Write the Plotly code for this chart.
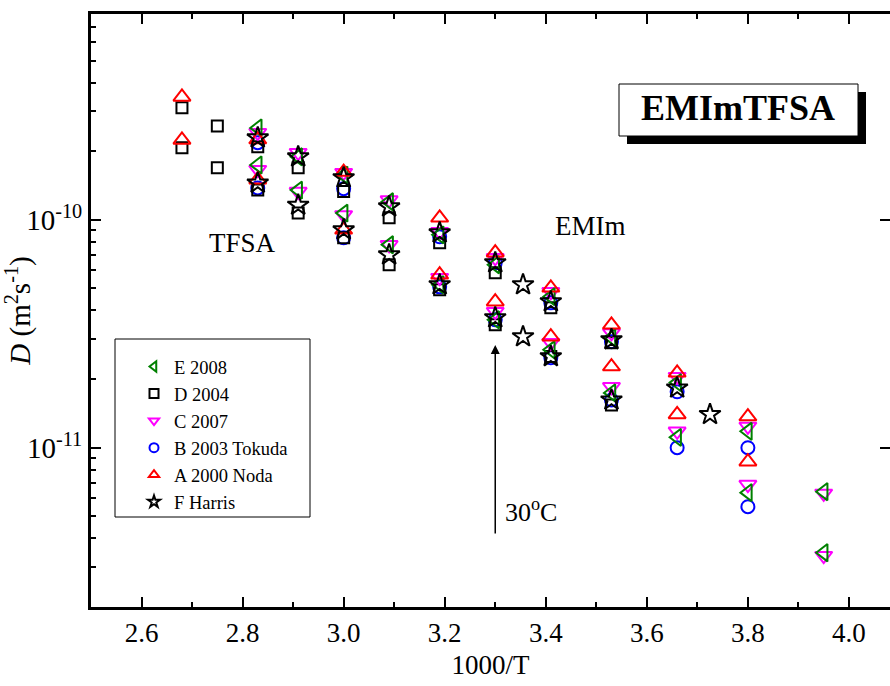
import plotly.graph_objects as go

# ---------------- data ----------------
# each series: 1000/T values, cation (EMIm) D and anion (TFSA) D in m^2/s
X_E = [2.83, 2.91, 3.00, 3.09, 3.19, 3.30, 3.41, 3.53, 3.66, 3.80, 3.95]
E_cat = [2.53e-10, 1.89e-10, 1.57e-10, 1.20e-10, 8.59e-11, 6.35e-11, 4.60e-11, 3.04e-11, 1.93e-11, 1.18e-11, 6.41e-12]
E_an = [1.74e-10, 1.35e-10, 1.07e-10, 7.77e-11, 5.19e-11, 3.64e-11, 2.69e-11, 1.74e-11, 1.11e-11, 6.35e-12, 3.46e-12]

X_D = [2.68, 2.75, 2.83, 2.91, 3.00, 3.09, 3.19, 3.30, 3.41, 3.53]
D_cat = [3.10e-10, 2.58e-10, 2.09e-10, 1.69e-10, 1.33e-10, 1.02e-10, 7.93e-11, 5.86e-11, 4.11e-11, 2.89e-11]
D_an = [2.07e-10, 1.69e-10, 1.35e-10, 1.07e-10, 8.34e-11, 6.35e-11, 4.93e-11, 3.46e-11, 2.51e-11, 1.54e-11]

X_C = [2.83, 2.91, 3.00, 3.09, 3.19, 3.30, 3.41, 3.53, 3.66, 3.80, 3.95]
C_cat = [2.41e-10, 1.97e-10, 1.61e-10, 1.22e-10, 8.86e-11, 6.81e-11, 4.83e-11, 3.19e-11, 2.05e-11, 1.24e-11, 6.30e-12]
C_an = [1.66e-10, 1.33e-10, 1.05e-10, 7.77e-11, 5.57e-11, 3.95e-11, 2.89e-11, 1.85e-11, 1.18e-11, 6.89e-12, 3.36e-12]

X_B = [2.83, 3.00, 3.19, 3.30, 3.41, 3.53, 3.66, 3.80]
B_cat = [2.18e-10, 1.37e-10, 8.42e-11, 6.48e-11, 4.32e-11, 2.92e-11, 1.76e-11, 1.00e-11]
B_an = [1.38e-10, 8.34e-11, 5.08e-11, 3.64e-11, 2.48e-11, 1.62e-11, 1.00e-11, 5.51e-12]

X_A = [2.68, 2.83, 3.00, 3.19, 3.30, 3.41, 3.53, 3.66, 3.80]
A_cat = [3.46e-10, 2.25e-10, 1.62e-10, 1.02e-10, 7.17e-11, 5.03e-11, 3.46e-11, 2.13e-11, 1.37e-11]
A_an = [2.24e-10, 1.50e-10, 9.04e-11, 5.74e-11, 4.37e-11, 3.07e-11, 2.27e-11, 1.40e-11, 8.68e-12]

X_F = [2.83, 2.91, 3.00, 3.09, 3.19, 3.30, 3.355, 3.41, 3.53, 3.66, 3.725]
F_cat = [2.29e-10, 1.89e-10, 1.53e-10, 1.14e-10, 8.77e-11, 6.48e-11, 5.19e-11, 4.37e-11, 2.98e-11, 1.83e-11, 1.40e-11]
F_an = [1.45e-10, 1.16e-10, 9.04e-11, 7.02e-11, 5.19e-11, 3.72e-11, 3.07e-11, 2.51e-11, 1.62e-11, None, None]

X_TICKS = [2.6, 2.8, 3.0, 3.2, 3.4, 3.6, 3.8, 4.0]
X_TICK_LABELS = ["2.6", "2.8", "3.0", "3.2", "3.4", "3.6", "3.8", "4.0"]
X_MINOR = [2.5, 2.7, 2.9, 3.1, 3.3, 3.5, 3.7, 3.9]
Y_TICKS = [1e-11, 1e-10]
Y_TICK_LABELS = ["10<sup>-11</sup>", "10<sup>-10</sup>"]
Y_MINOR = [2e-12, 3e-12, 4e-12, 5e-12, 6e-12, 7e-12, 8e-12, 9e-12,
           2e-11, 3e-11, 4e-11, 5e-11, 6e-11, 7e-11, 8e-11, 9e-11,
           2e-10, 3e-10, 4e-10, 5e-10, 6e-10, 7e-10]
ARROW_X = 3.30

FONT = "Liberation Serif, Times New Roman, serif"

series = [
    # name, x, cat, an, symbol, color, size, legend rank
    ("B 2003 Tokuda", X_B, B_cat, B_an, "circle-open", "#0000FF", 13, 4),
    ("D 2004", X_D, D_cat, D_an, "square-open", "#000000", 11, 2),
    ("C 2007", X_C, C_cat, C_an, "triangle-down-open", "#FF00FF", 15, 3),
    ("E 2008", X_E, E_cat, E_an, "triangle-left-open", "#008000", 15, 1),
    ("A 2000 Noda", X_A, A_cat, A_an, "triangle-up-open", "#FF0000", 15, 5),
    ("F Harris", X_F, F_cat, F_an, "star-open", "#000000", 16, 6),
]

fig = go.Figure()
for name, xs, cat, an, sym, col, size, rank in series:
    fig.add_trace(go.Scatter(
        x=list(xs) + list(xs), y=list(cat) + list(an),
        mode="markers", name=name, showlegend=False,
        marker=dict(symbol=sym, size=size, color=col,
                    line=dict(color=col, width=2)),
    ))
# legend-only entries with small symbols
for name, xs, cat, an, sym, col, size, rank in series:
    fig.add_trace(go.Scatter(
        x=[None], y=[None], mode="markers", name=name, legendrank=rank,
        marker=dict(symbol=sym, size=9, color=col, line=dict(color=col, width=2)),
    ))

# invisible trace for right-side tick stubs
fig.add_trace(go.Scatter(x=[None], y=[None], yaxis="y2", showlegend=False))

W, H = 890, 686
L, R, T, B = 91, 0, 14, 79
pw, ph = W - L - R, H - T - B


def px_x(p):
    return (p - L) / pw


def px_y(p):
    return (H - B - p) / ph


fig.update_layout(
    width=W, height=H,
    margin=dict(l=L, r=R, t=T, b=B),
    paper_bgcolor="white", plot_bgcolor="white",
    font=dict(family=FONT, color="black", size=27),
    showlegend=True,
    legend=dict(x=px_x(134), y=px_y(348), xanchor="left", yanchor="top",
                bgcolor="rgba(0,0,0,0)", borderwidth=0,
                font=dict(family=FONT, size=18.5, color="black"),
                itemsizing="trace"),
    xaxis=dict(range=[2.5, 2.5 + pw / 505.3],
               tickvals=X_TICKS, ticktext=X_TICK_LABELS,
               ticks="inside", ticklen=10, tickwidth=2, tickcolor="black",
               minor=dict(tickvals=X_MINOR,
                          ticks="inside", ticklen=5, tickwidth=2, tickcolor="black"),
               showline=True, linewidth=3, linecolor="black", mirror="ticks",
               showgrid=False, zeroline=False,
               tickfont=dict(family=FONT, size=27),
               title=dict(text="1000/T", font=dict(family=FONT, size=27), standoff=8)),
    yaxis=dict(type="log", range=[-11.699, -9.097],
               tickvals=Y_TICKS, ticktext=Y_TICK_LABELS,
               ticks="inside", ticklen=10, tickwidth=2, tickcolor="black",
               minor=dict(tickvals=Y_MINOR,
                          ticks="inside", ticklen=5, tickwidth=2, tickcolor="black"),
               showline=True, linewidth=3, linecolor="black", mirror=False,
               showgrid=False, zeroline=False,
               tickfont=dict(family=FONT, size=29),
               title=dict(text="<i>D</i> (m<sup>2</sup>s<sup>-1</sup>)",
                          font=dict(family=FONT, size=29), standoff=0)),
    yaxis2=dict(type="log", range=[-11.699, -9.097], overlaying="y", side="right",
                tickvals=Y_TICKS, showticklabels=False,
                ticks="inside", ticklen=10, tickwidth=2, tickcolor="black",
                showline=False, showgrid=False, zeroline=False),
)

# legend frame
fig.add_shape(type="rect", xref="paper", yref="paper",
              x0=px_x(115), x1=px_x(310), y0=px_y(517), y1=px_y(339),
              line=dict(color="black", width=1), fillcolor="rgba(0,0,0,0)")

# title box with shadow
fig.add_shape(type="rect", xref="paper", yref="paper",
              x0=px_x(627), x1=px_x(866), y0=px_y(144), y1=px_y(92),
              line=dict(color="black", width=0), fillcolor="black")
fig.add_shape(type="rect", xref="paper", yref="paper",
              x0=px_x(619), x1=px_x(858), y0=px_y(136), y1=px_y(84),
              line=dict(color="black", width=1), fillcolor="white")
fig.add_annotation(xref="paper", yref="paper", x=px_x(738), y=px_y(108),
                   xanchor="center", yanchor="middle",
                   text="<b>EMImTFSA</b>", showarrow=False,
                   font=dict(family=FONT, size=36, color="black"))

fig.add_annotation(xref="paper", yref="paper", x=px_x(242), y=px_y(243),
                   xanchor="center", yanchor="middle",
                   text="TFSA", showarrow=False, font=dict(family=FONT, size=27))
fig.add_annotation(xref="paper", yref="paper", x=px_x(590), y=px_y(226),
                   xanchor="center", yanchor="middle",
                   text="EMIm", showarrow=False, font=dict(family=FONT, size=27))
fig.add_annotation(xref="paper", yref="paper", x=px_x(531), y=px_y(510),
                   xanchor="center", yanchor="middle",
                   text="30<sup>o</sup>C", showarrow=False, font=dict(family=FONT, size=26))

# arrow pointing at 30 C
fig.add_annotation(x=ARROW_X, xref="x", y=px_y(345), yref="paper",
                   ax=0, ay=190, axref="pixel", ayref="pixel",
                   text="", showarrow=True, arrowhead=2, arrowsize=1.2,
                   arrowwidth=1.5, arrowcolor="black")

fig.write_html("out.html", config={"displayModeBar": False},
               post_script="document.body.style.margin='0';document.body.style.overflow='hidden';")
